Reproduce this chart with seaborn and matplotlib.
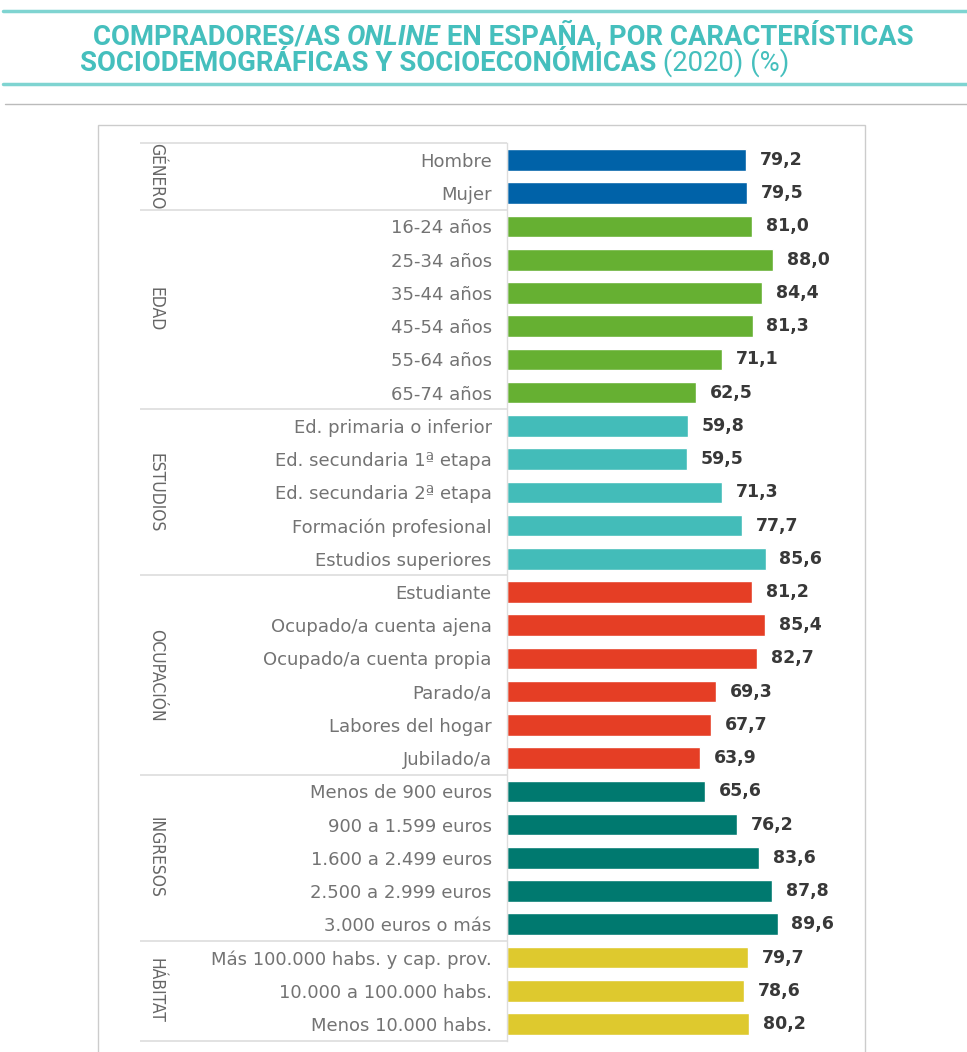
import matplotlib
matplotlib.use("Agg")
import matplotlib.pyplot as plt
import matplotlib.patches as mpatches
import pandas as pd
import seaborn as sns

# Data
groups = ["GÉNERO", "EDAD", "ESTUDIOS", "OCUPACIÓN", "INGRESOS", "HÁBITAT"]
group_sizes = [2, 6, 5, 6, 5, 3]
categories = [
    "Hombre", "Mujer",
    "16-24 años", "25-34 años", "35-44 años", "45-54 años", "55-64 años", "65-74 años",
    "Ed. primaria o inferior", "Ed. secundaria 1ª etapa", "Ed. secundaria 2ª etapa",
    "Formación profesional", "Estudios superiores",
    "Estudiante", "Ocupado/a cuenta ajena", "Ocupado/a cuenta propia", "Parado/a",
    "Labores del hogar", "Jubilado/a",
    "Menos de 900 euros", "900 a 1.599 euros", "1.600 a 2.499 euros",
    "2.500 a 2.999 euros", "3.000 euros o más",
    "Más 100.000 habs. y cap. prov.", "10.000 a 100.000 habs.", "Menos 10.000 habs.",
]
values = [
    79.2, 79.5,
    81.0, 88.0, 84.4, 81.3, 71.1, 62.5,
    59.8, 59.5, 71.3, 77.7, 85.6,
    81.2, 85.4, 82.7, 69.3, 67.7, 63.9,
    65.6, 76.2, 83.6, 87.8, 89.6,
    79.7, 78.6, 80.2,
]
group_colors = ["#0062A8", "#66B032", "#43BCB9", "#E53E25", "#00796F", "#DEC92E"]

group_col = []
for g, n in zip(groups, group_sizes):
    group_col += [g] * n
df = pd.DataFrame({"categoria": categories, "valor": values, "grupo": group_col})
palette = dict(zip(groups, group_colors))

sns.set_theme(style="white")
plt.rcParams["font.family"] = ["DejaVu Sans"]

W, H = 967, 1052
fig = plt.figure(figsize=(W / 100, H / 100), dpi=100)


def fx(x):
    return x / W


def fy(y):
    return 1 - y / H


# header lines
fig.add_artist(plt.Line2D([fx(3), fx(967)], [fy(11), fy(11)], color="#7FD4D1", lw=2.5))
fig.add_artist(plt.Line2D([fx(3), fx(967)], [fy(84), fy(84)], color="#7FD4D1", lw=2.5))
fig.add_artist(plt.Line2D([fx(5), fx(967)], [fy(104), fy(104)], color="#BBBBBB", lw=1))

# white box behind the chart
box = mpatches.Rectangle((fx(98), fy(1060)), fx(865 - 98), (1060 - 125) / H,
                         transform=fig.transFigure, facecolor="white",
                         edgecolor="#CCCCCC", lw=1, zorder=-10)
fig.add_artist(box)

# title
tcol = "#45BFBD"
tkw = dict(fontsize=19.8, color=tcol, family="Roboto", va="baseline")
t1 = fig.text(fx(93), fy(45), "COMPRADORES/AS ", fontweight="bold", **tkw)
t2 = fig.text(0, 0, "ONLINE", fontweight="bold", style="italic", **tkw)
t3 = fig.text(0, 0, " EN ESPAÑA, POR CARACTERÍSTICAS", fontweight="bold", **tkw)
t4 = fig.text(fx(80), fy(71), "SOCIODEMOGRÁFICAS Y SOCIOECONÓMICAS", fontweight="bold", **tkw)
t5 = fig.text(0, 0, " (2020) (%)", fontweight="normal", **tkw)
renderer = fig.canvas.get_renderer()
for prev, cur, base in [(t1, t2, 45), (t2, t3, 45), (t4, t5, 71)]:
    bb = prev.get_window_extent(renderer)
    cur.set_position((bb.x1 / W, fy(base)))

# bar axes
top, bottom = 143.4, 1040.6
ax = fig.add_axes([fx(507), fy(bottom), fx(865 - 507), (bottom - top) / H])
ax.patch.set_alpha(0)
sns.barplot(data=df, y="categoria", x="valor", hue="grupo", palette=palette,
            dodge=False, width=0.65, legend=False, ax=ax, saturation=1)
ax.set_xlim(0, (865 - 507) / 3.02)
ax.set_ylim(len(categories) - 0.5, -0.5)
ax.set_xlabel("")
ax.set_ylabel("")
ax.set_xticks([])
for s in ["top", "right", "bottom"]:
    ax.spines[s].set_visible(False)
ax.spines["left"].set_color("#DDDDDD")
ax.spines["left"].set_linewidth(1)
ax.tick_params(axis="y", length=0, pad=11, labelsize=13, labelcolor="#737373")

for i, v in enumerate(values):
    ax.annotate(f"{v:.1f}".replace(".", ","), xy=(v, i), xytext=(10, 0),
                textcoords="offset points", va="center", ha="left",
                fontsize=12.5, fontweight="semibold", color="#383838")

# group separators and labels
trans = ax.get_yaxis_transform()
left_ax = (140 - 507) / (865 - 507)
lab_x = (156 - 507) / (865 - 507)
start = 0
ax.hlines(-0.5, left_ax, 0, transform=trans, color="#DDDDDD", lw=1.2, clip_on=False)
for g, n in zip(groups, group_sizes):
    end = start + n
    ax.hlines(end - 0.5, left_ax, 0, transform=trans, color="#DDDDDD", lw=1.2, clip_on=False)
    ax.text(lab_x, (start + end - 1) / 2, g, transform=trans, rotation=270,
            ha="center", va="center", fontsize=12.5, color="#666666",
            fontstretch="condensed", clip_on=False)
    start = end

fig.savefig("out.png", dpi=100)
